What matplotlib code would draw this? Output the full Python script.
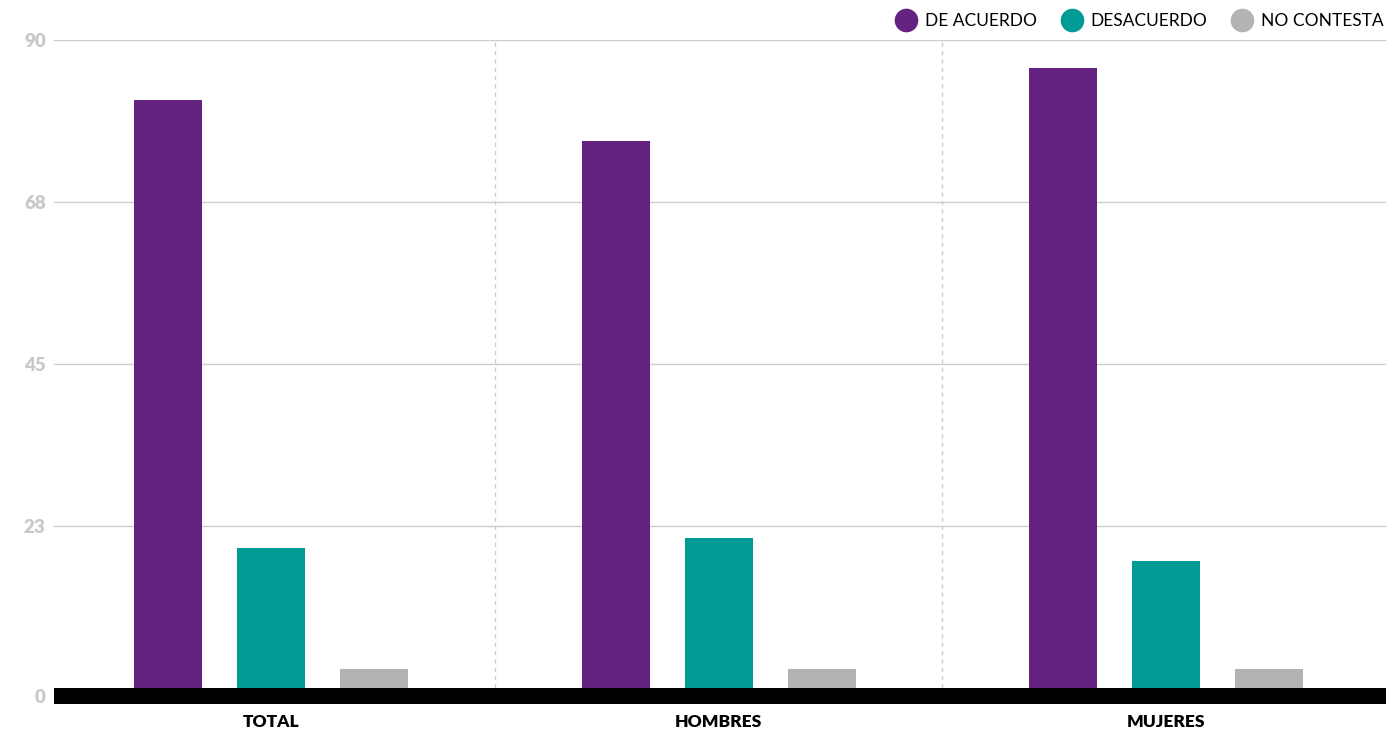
import matplotlib.pyplot as plt
from matplotlib.lines import Line2D
import numpy as np

plt.rcParams['font.family'] = ['Lato', 'DejaVu Sans']

categorias = ['TOTAL', 'HOMBRES', 'MUJERES']
series = ['DE ACUERDO', 'DESACUERDO', 'NO CONTESTA']
de_acuerdo = [81.7, 76.0, 86.1]
desacuerdo = [19.4, 20.8, 17.6]
no_contesta = [2.6, 2.6, 2.6]
ticks = [0, 22.5, 45, 67.5, 90]
tick_labels = ['0', '23', '45', '68', '90']
colores = ['#652381', '#009b94', '#b3b3b3']

W, H = 1386, 730
fig = plt.figure(figsize=(W / 100, H / 100), dpi=100)
# ejes: x 54..1386, y 40 (90) .. 704 (base de la barra negra)
ax = fig.add_axes([54 / W, 1 - 704 / H, (1386 - 54) / W, (704 - 40) / H])

px = 447.5  # pixeles por categoria
x = np.arange(len(categorias))
offset = 103 / px
ancho = 68 / px
for i, (vals, c) in enumerate(zip([de_acuerdo, desacuerdo, no_contesta], colores)):
    ax.bar(x + (i - 1) * offset, vals, width=ancho, color=c, zorder=3)

base = 16 / 7.2
ax.set_ylim(-base, 90)
ax.set_xlim(-(271 - 54) / px, 2 + (1386 - 1166) / px)
ax.axhspan(-base, 0, color='black', zorder=4, lw=0)

for t in ticks[1:]:
    ax.axhline(t, color='#cccccc', lw=1, zorder=1)
for xv in [0.5, 1.5]:
    ax.plot([xv, xv], [0, 90], color='#cccccc', lw=1, ls=(0, (3, 3)), zorder=1)

# el "0" va centrado en la barra negra
ax.set_yticks([-base / 2] + ticks[1:])
ax.set_yticklabels(tick_labels, color='#c8c8c8', fontsize=13.5, fontweight='heavy')
ax.tick_params(axis='y', length=0, pad=6)
ax.set_xticks(x)
ax.set_xticklabels(categorias, fontsize=12.5, fontweight='heavy', color='black')
ax.tick_params(axis='x', length=0, pad=7)
for s in ax.spines.values():
    s.set_visible(False)

handles = [Line2D([], [], marker='o', ls='', markersize=16, color=c) for c in colores]
ax.legend(handles, series, loc='center right', bbox_to_anchor=(1 - 2 / 1332, 1 + 19 / 664), ncol=3,
          frameon=False, fontsize=12.5, handletextpad=0.1, columnspacing=1.0,
          borderaxespad=0.0, borderpad=0.0)

fig.savefig('out.png', dpi=100)
